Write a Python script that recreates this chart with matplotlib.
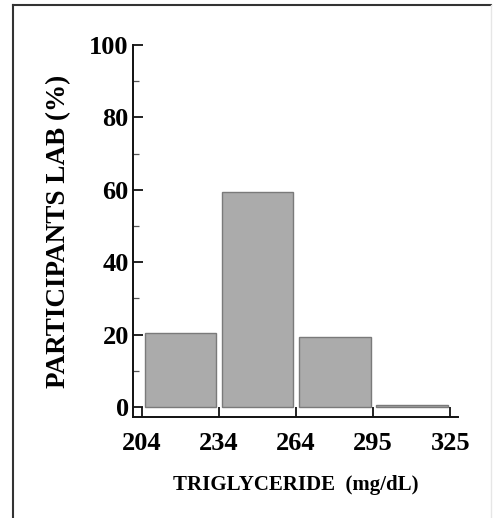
import matplotlib.pyplot as plt
from matplotlib.ticker import MultipleLocator
from matplotlib.lines import Line2D

bins = ['204', '234', '264', '295', '325']
labs = [20.5, 59.5, 19.3, 0.6]

plt.rcParams['font.family'] = ['Liberation Serif', 'DejaVu Serif']

fig = plt.figure(figsize=(4.95, 5.18), dpi=100)
fig.patch.set_facecolor('white')
ax = fig.add_axes([0.2687, 0.195, 0.6566, 0.718])

pos = [i + 0.5 for i in range(len(labs))]
ax.bar(pos, labs, width=0.93, color='#ababab', edgecolor='#7a7a7a', linewidth=1.0)

ax.set_xlim(-0.117, 4.1)
ax.set_ylim(-2.76, 100)
ax.set_xticks(range(len(bins)))
ax.set_xticklabels(bins)
ax.set_yticks([0, 20, 40, 60, 80, 100])
ax.yaxis.set_minor_locator(MultipleLocator(10))

for s in ['top', 'right']:
    ax.spines[s].set_visible(False)
for s in ['left', 'bottom']:
    ax.spines[s].set_linewidth(1.4)
    ax.spines[s].set_color('#111111')

ax.tick_params(axis='both', which='major', direction='in', length=7, width=1.3,
               labelsize=19, pad=3, color='#111111')
ax.tick_params(axis='y', which='minor', direction='in', length=4, width=0.9, color='#555555')
ax.tick_params(axis='x', which='major', pad=11)
for t in ax.get_xticklabels() + ax.get_yticklabels():
    t.set_fontweight('bold')

ax.set_ylabel('PARTICIPANTS LAB (%)', fontsize=19.5, fontweight='bold', labelpad=13)
ax.set_xlabel('TRIGLYCERIDE  (mg/dL)', fontsize=15, fontweight='semibold', labelpad=14)

# outer frame
fig.add_artist(Line2D([13 / 495, 13 / 495], [0, 1 - 5 / 518], color='#333333', lw=1.5))
fig.add_artist(Line2D([13 / 495, 491 / 495], [1 - 5 / 518, 1 - 5 / 518], color='#333333', lw=1.5))
fig.add_artist(Line2D([491 / 495, 491 / 495], [0, 1 - 5 / 518], color='#e6e6e6', lw=1.0))

fig.savefig('out.png', dpi=100)
